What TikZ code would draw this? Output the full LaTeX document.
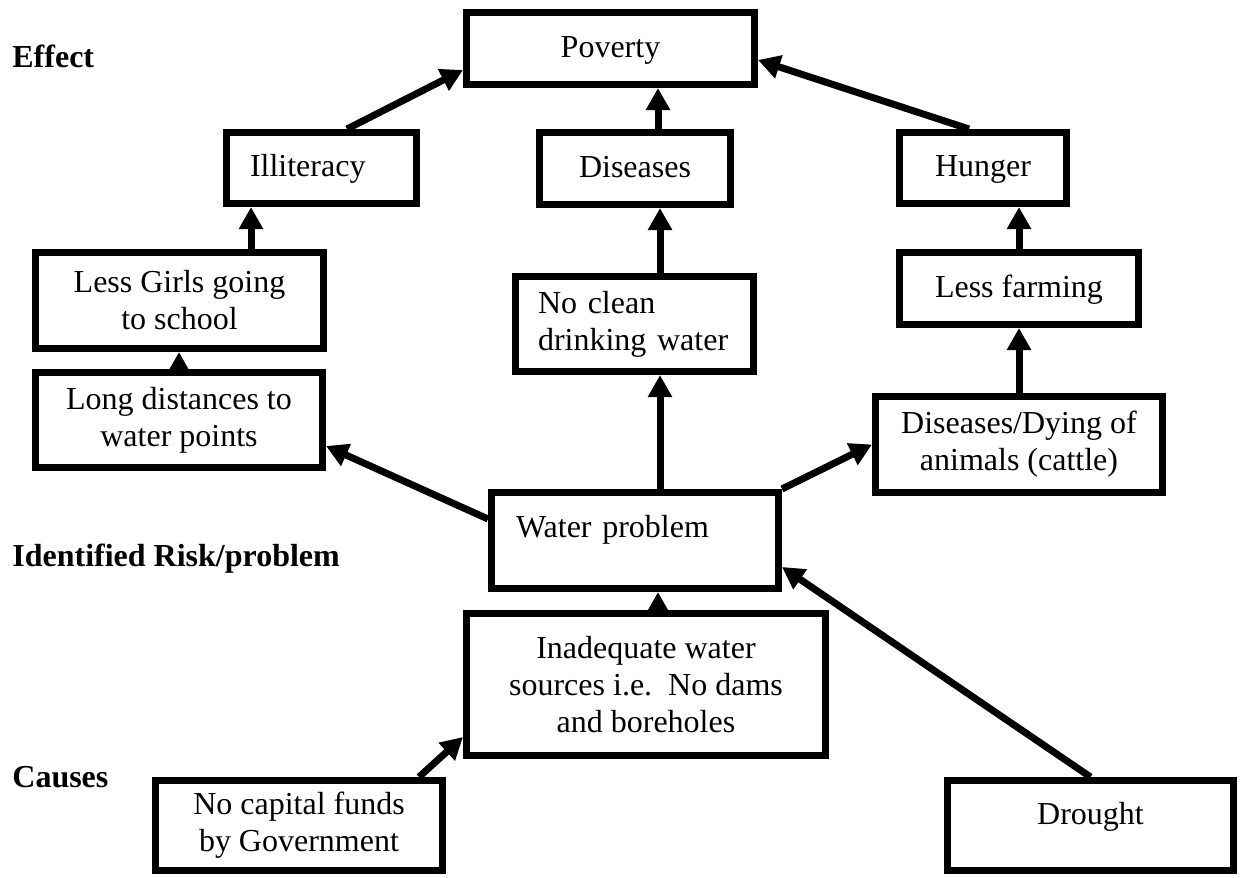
\documentclass[tikz,border=0pt]{standalone}
\usepackage{fontspec}
\setmainfont{Liberation Serif}
\usetikzlibrary{arrows.meta}

\begin{document}
\begin{tikzpicture}[
                x=0.5pt, y=-0.5pt,
                font=\fontsize{16pt}{18.5pt}\selectfont,
                box/.style={draw, line width=3.5pt, align=center, inner sep=2pt},
                leftbox/.style={box, align=left},
                oneline/.style={text height=11pt, text depth=2.5pt},
                level/.style={font=\fontsize{16pt}{18.5pt}\selectfont\bfseries, anchor=base west, inner sep=0pt},
                arrow/.style={draw, line width=3.5pt, -{Triangle[length=11pt, width=11.5pt]}}
              ]
              \useasboundingbox (0,0) rectangle (1244,878);

              % levels
              \node (effect) [level] at (12,68) {Effect};
              \node (risk) [level] at (12,566) {Identified Risk/problem};
              \node (causes) [level] at (12,787) {Causes};

              % effects
              \node (pov) [box, oneline, minimum width=144pt, minimum height=36pt] at (610.5,48.5) {Poverty};
              \node (ill) [leftbox, oneline, text width=71.5pt, inner xsep=11.75pt, minimum height=35.5pt] at (321.5,168) {Illiteracy};
              \node (dis) [box, oneline, minimum width=95.5pt, minimum height=36pt] at (635,168.5) {Diseases};
              \node (hun) [box, oneline, minimum width=83.5pt, minimum height=35.5pt] at (983,168) {Hunger};
              \node (girls) [box, minimum width=144pt, minimum height=48pt] at (179.5,300.5) {Less Girls going\\to school};
              \node (dist) [box, minimum width=143.5pt, minimum height=47.5pt] at (179,420) {Long distances to\\water points};
              \node (clean) [leftbox, text width=96.5pt, inner xsep=11.25pt, minimum height=47.5pt] at (634.5,324) {No clean\\drinking water};
              \node (farm) [box, oneline, minimum width=119.5pt, minimum height=36pt] at (1019,288.5) {Less farming};
              \node (dying) [box, minimum width=143.5pt, minimum height=48pt] at (1019,444.5) {Diseases/Dying of\\animals (cattle)};

              % problem
              \node (water) [leftbox, text width=119pt, inner xsep=12.25pt, minimum height=48pt, text height=11pt, text depth=14.5pt] at (635,540.5) {Water problem};

              % causes
              \node (inad) [box, minimum width=179.5pt, minimum height=71pt] at (646,684.5) {Inadequate water\\sources i.e.\ \ No dams\\and boreholes};
              \node (funds) [box, minimum width=143.5pt, minimum height=45pt] at (299,825.5) {No capital funds\\by Government};
              \node (drought) [box, minimum width=143pt, minimum height=45pt, text height=11pt, text depth=12.5pt] at (1090.5,825.5) {Drought};

              % Draw arrows
              \coordinate (gi) at ([xshift=-35.25pt]ill.south);
              \coordinate (dc) at ([xshift=11.5pt]dis.north);
              \coordinate (cc) at ([xshift=12.75pt]clean.north);
              \coordinate (wc) at ([xshift=12.5pt]water.north);
              \coordinate (ic) at ([xshift=6pt]inad.north);

              \draw[arrow] ([xshift=12.75pt]ill.north) -- ([yshift=-10.75pt]pov.west);
              \draw[arrow] (dc) -- (dc |- pov.south);
              \draw[arrow] ([xshift=-7pt]hun.north) -- ([yshift=-5.75pt]pov.east);
              \draw[arrow] (girls.north -| gi) -- (gi);
              \draw[arrow] (dist.north) -- (dist.north |- girls.south);
              \draw[arrow] (cc) -- (cc |- dis.south);
              \draw[arrow] (farm.north) -- (farm.north |- hun.south);
              \draw[arrow] (dying.north) -- (farm.south);
              \draw[arrow] ([yshift=10.75pt]water.west) -- ([yshift=-13pt]dist.east);
              \draw[arrow] (wc) -- (wc |- clean.south);
              \draw[arrow] (water.north east) -- (dying.west);
              \draw[arrow] (ic) -- (ic |- water.south);
              \draw[arrow] (drought.north) -- ([yshift=-13.25pt]water.east);
              \draw[arrow] ([xshift=60pt]funds.north) -- ([yshift=-26.25pt]inad.west);

            \end{tikzpicture}
\end{document}
